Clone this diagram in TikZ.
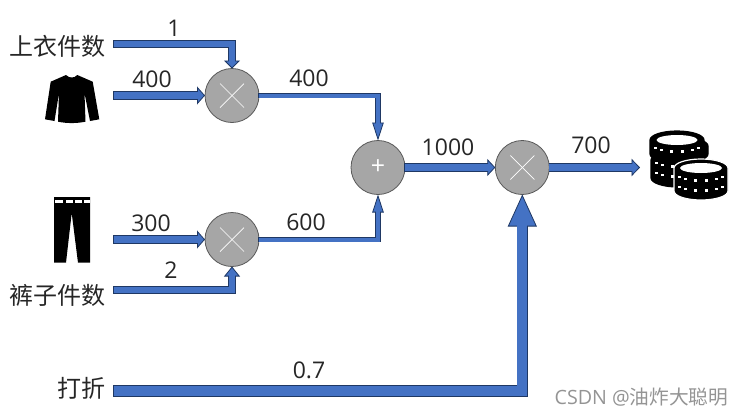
\documentclass[tikz,border=0pt]{standalone}
\usepackage{fontspec}
\setmainfont{Open Sans}
\newfontfamily\cjk{Noto Sans CJK SC}
\usetikzlibrary{arrows.meta}
\definecolor{wireblue}{HTML}{4472C4}
\definecolor{wireedge}{HTML}{1F3864}
\definecolor{opfill}{HTML}{A6A6A6}
\definecolor{opedge}{HTML}{595959}
\tikzset{
  wire/.style n args={3}{
    preaction={draw=wireedge,line width=#1+1.2pt,shorten >=0pt,shorten <=-.6pt,
      -{Triangle[length=#2,width=#3,fill=wireblue,color=wireedge,line width=.8pt]}},
    draw=wireblue,line width=#1,shorten >=#2-1.5pt},
  opnode/.style={circle,draw=opedge,fill=opfill,line width=.8pt,minimum size=54pt,
    inner sep=0pt,outer sep=0pt,text=white,font=\fontsize{25}{25}\selectfont},
  numlabel/.style={font=\fontsize{23}{23}\selectfont,text=black!85,inner sep=0pt},
  cjklabel/.style={font=\cjk\fontsize{24}{24}\selectfont,text=black!85,inner sep=0pt},
  opmark/.style={draw=white,line width=.7pt}
}
% one row of small marks on the rim of a coin
\newcommand{\coinrow}[2]{
  \foreach \a in {15,45,...,165}
    \fill[white] ({#1+22*cos(\a)-1.6},{#2+4.5*sin(\a)-1.5}) rectangle ++(3.2,2.8);
}
% one coin, top ellipse at (#1,#2), height #3, edge colour #4
\newcommand{\coinbody}[4]{
  \filldraw[fill=black,draw=#4,line width=1.2pt] (#1-27,#2)
    arc[start angle=180,end angle=360,x radius=27,y radius=9] -- ++(0,#3)
    arc[start angle=0,end angle=180,x radius=27,y radius=9] -- cycle;
}
\begin{document}
\begin{tikzpicture}[x=1pt,y=-1pt]
  \useasboundingbox (0,0) rectangle (742,416);
  % operators
  \node[opnode] (mulTop) at (232,95.5) {};
  \node[opnode] (mulBot) at (232,239.5) {};
  \node[opnode] (plus) at (378,167.5) {+};
  \node[opnode] (mulEnd) at (522.3,167.5) {};
  \foreach \n in {mulTop,mulBot,mulEnd} {
    \draw[opmark] ([shift={(-12,-12)}]\n.center) -- ([shift={(12,12)}]\n.center);
    \draw[opmark] ([shift={(-12,12)}]\n.center) -- ([shift={(12,-12)}]\n.center);
  }
  % texts
  \node[cjklabel] (shirtNum) at (57.5,46) {上衣件数};
  \node[cjklabel] (pantsNum) at (57.5,295) {裤子件数};
  \node[cjklabel] (discount) at (81,388) {打折};
  \node[numlabel] (valA) at (174,28) {1};
  \node[numlabel] (valB) at (152,79) {400};
  \node[numlabel] (valC) at (309,78) {400};
  \node[numlabel] (valD) at (448,147) {1000};
  \node[numlabel] (valE) at (591,145) {700};
  \node[numlabel] (valF) at (151,223) {300};
  \node[numlabel] (valG) at (306,222) {600};
  \node[numlabel] (valH) at (171,270) {2};
  \node[numlabel] (valI) at (309,370) {0.7};
  \node[font=\fontsize{19.7}{20}\selectfont,text=black!42,inner sep=0pt] (csdn) at (641.5,397)
    {CSDN @{\cjk 油炸大聪明}};
  % free ends
  \coordinate (srcA) at (114,44);
  \coordinate (srcB) at (114,95.5);
  \coordinate (srcC) at (114,239.5);
  \coordinate (srcD) at (114,290);
  \coordinate (srcE) at (114,391);
  \coordinate (coins) at (640,167.5);
  % connectors
  \draw[wire={6pt}{8pt}{16pt}] (srcA) -| (mulTop);
  \draw[wire={7.5pt}{8pt}{18pt}] (srcB) -- (mulTop);
  \draw[wire={7.5pt}{8pt}{18pt}] (srcC) -- (mulBot);
  \draw[wire={6pt}{10pt}{16pt}] (srcD) -| (mulBot);
  \draw[wire={4pt}{18pt}{11.5pt}] (mulTop) -| (plus);
  \draw[wire={4pt}{18pt}{11.5pt}] (mulBot) -| (plus);
  \draw[wire={7pt}{8pt}{17pt}] (plus) -- (mulEnd);
  \draw[wire={7pt}{8.5pt}{17.5pt}] (mulEnd) -- (coins);
  \draw[wire={10pt}{32pt}{29pt}] (srcE) -| (mulEnd);
  % shirt
  \fill[black] (66,75) .. controls (68,77) and (70,77.5) .. (71.7,77.5)
    .. controls (73.5,77.5) and (75.5,77) .. (77.3,75) -- (92.7,81.7) -- (99.3,119.3)
    -- (90,121) -- (84.5,93) -- (85.5,121.7) .. controls (76,123.5) and (67,123.5) .. (58,121.7)
    -- (59,93) -- (54.5,121) -- (45,119.3) -- (50.7,81.7) -- cycle;
  % pants
  \fill[black] (54,197) -- (90,197) -- (90,262.7) -- (78,262.7) -- (71.7,213)
    -- (66,262.7) -- (54,262.7) -- cycle;
  \foreach \x/\w in {55/8,66/6.7,75/6.7,83.5/6}
    \fill[white] (\x,200) rectangle ++(\w,3);
  % coins
  \coinbody{678}{160}{18}{black}
  \coinbody{681}{146}{8}{black}
  \coinbody{677}{140}{14}{black}
  \coinrow{677}{147}
  \coinrow{678}{162}
  \coinrow{678}{172}
  \fill[white] (677,140) ellipse[x radius=20.5,y radius=5];
  \coinbody{701}{168}{23}{white}
  \coinrow{701}{176}
  \coinrow{701}{186}
  \fill[white] (701,168) ellipse[x radius=21,y radius=5];
\end{tikzpicture}
\end{document}
